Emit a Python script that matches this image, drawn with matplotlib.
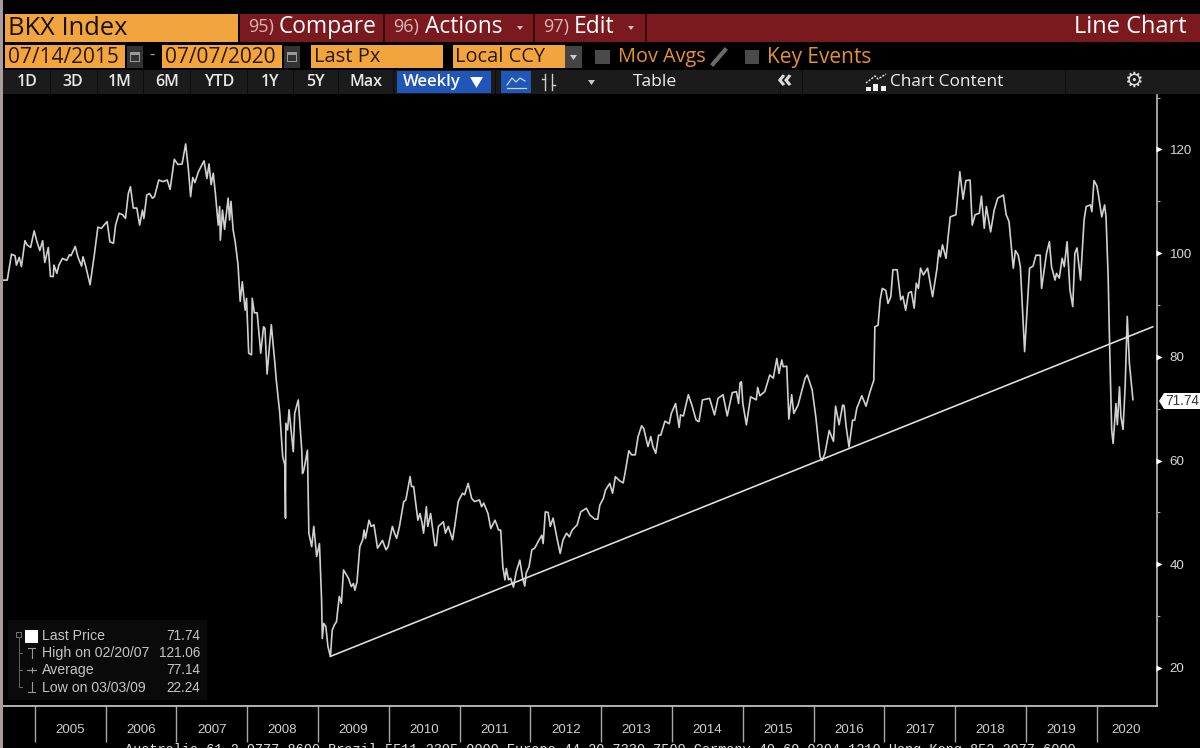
import matplotlib
matplotlib.use("Agg")
import matplotlib.pyplot as plt
from matplotlib.patches import Rectangle, Polygon
from matplotlib.transforms import blended_transform_factory

# ---------- data ----------
dates = [
2004.55,2004.61,2004.67,2004.72,2004.74,2004.78,2004.81,2004.86,2004.89,2004.94,2004.99,2005.03,2005.07,2005.11,2005.14,2005.19,2005.22,2005.26,2005.27,2005.31,
2005.34,2005.39,2005.45,2005.49,2005.51,2005.57,2005.61,2005.66,2005.68,2005.72,2005.78,2005.84,2005.89,2005.94,2006.02,2006.06,2006.11,2006.14,2006.19,2006.24,
2006.28,2006.32,2006.35,2006.39,2006.44,2006.48,2006.52,2006.54,2006.58,2006.62,2006.66,2006.69,2006.75,2006.81,2006.87,2006.91,2006.97,2007.02,2007.08,2007.13,
2007.17,2007.20,2007.23,2007.26,2007.31,2007.39,2007.43,2007.46,2007.49,2007.52,2007.55,2007.59,2007.61,2007.62,2007.65,2007.68,2007.73,2007.75,2007.77,2007.80,
2007.83,2007.87,2007.90,2007.93,2007.97,2007.99,2008.02,2008.06,2008.07,2008.10,2008.14,2008.19,2008.23,2008.25,2008.28,2008.34,2008.39,2008.41,
2008.46,2008.50,2008.53,2008.54,2008.545,2008.57,2008.59,2008.65,2008.67,2008.72,2008.77,2008.78,2008.80,2008.85,2008.87,2008.91,2008.94,2008.98,2009.02,2009.05,
2009.06,2009.08,2009.11,2009.14,2009.175,2009.20,2009.23,2009.26,2009.30,2009.33,2009.36,2009.43,2009.47,2009.50,2009.52,2009.55,2009.59,2009.63,2009.65,2009.67,
2009.72,2009.75,2009.79,2009.84,2009.91,2009.96,2009.99,2010.05,2010.08,2010.11,2010.15,2010.21,2010.24,2010.30,2010.32,2010.35,2010.41,2010.44,2010.47,2010.49,
2010.53,2010.55,2010.59,2010.65,2010.67,2010.70,2010.77,2010.80,2010.84,2010.90,2010.93,2010.98,2011.04,2011.07,2011.12,2011.17,2011.21,2011.28,2011.31,2011.34,
2011.40,2011.44,2011.50,2011.55,2011.58,2011.61,2011.64,2011.66,2011.69,2011.72,2011.76,2011.80,2011.85,2011.89,2011.92,2011.94,2011.98,2012.02,2012.06,2012.11,
2012.16,2012.18,2012.21,2012.25,2012.28,2012.32,2012.38,2012.42,2012.46,2012.51,2012.55,2012.59,2012.66,2012.71,2012.79,
2012.84,2012.91,2012.95,2012.98,2013.03,2013.06,2013.12,2013.16,2013.20,2013.26,2013.31,2013.34,2013.39,2013.43,2013.48,
2013.52,2013.57,2013.60,2013.66,2013.70,2013.73,2013.77,2013.81,2013.84,2013.90,2013.96,2013.99,2014.05,2014.10,2014.12,2014.16,2014.23,2014.28,2014.34,2014.38,
2014.43,2014.53,2014.60,2014.65,2014.72,2014.78,2014.85,2014.91,2014.94,2014.96,2014.98,2015.00,2015.05,2015.11,2015.19,2015.21,2015.24,2015.31,2015.38,2015.43,
2015.48,2015.51,2015.55,2015.57,2015.62,2015.65,2015.69,2015.72,2015.78,2015.88,2015.91,2015.98,2016.03,2016.09,2016.12,2016.16,2016.22,2016.28,2016.31,2016.36,
2016.41,2016.43,2016.46,2016.50,2016.55,2016.58,2016.61,2016.68,
2016.74,2016.79,2016.85,2016.865,2016.91,2016.94,2016.97,2017.02,2017.05,2017.09,2017.12,2017.18,2017.23,2017.26,2017.30,2017.34,2017.38,2017.42,2017.45,2017.48,
2017.51,2017.55,2017.61,2017.68,2017.74,2017.77,2017.79,2017.82,2017.87,2017.90,2017.93,2018.01,2018.065,2018.11,2018.15,2018.21,2018.24,2018.28,2018.34,2018.37,
2018.41,2018.44,2018.50,2018.55,2018.60,2018.68,2018.72,2018.76,2018.82,2018.85,2018.89,2018.92,2018.98,2019.05,2019.10,2019.14,2019.20,2019.22,2019.27,2019.29,
2019.33,2019.36,2019.41,2019.43,2019.47,2019.51,2019.54,2019.58,2019.62,2019.66,2019.69,2019.72,2019.77,2019.82,2019.85,2019.91,2019.93,2019.96,2020.00,2020.02,
2020.07,2020.11,2020.13,2020.16,2020.18,2020.21,2020.23,2020.27,2020.29,2020.32,2020.34,2020.37,2020.40,2020.43,2020.46,2020.51]

prices = [
94.8,94.8,99.8,99.5,97.7,99.2,97.4,102.4,101.6,101.1,104.3,102.2,100.5,102.4,98.2,101.1,95.5,95.5,97.7,96.1,
97.7,99.0,98.6,99.7,99.5,101.3,99.2,97.5,99.3,97.4,93.9,99.7,105.0,104.8,106.1,102.2,101.9,105.4,107.7,107.4,
106.7,111.5,112.8,108.7,108.7,105.4,108.3,106.7,111.2,111.5,110.6,110.9,114.1,113.8,114.1,112.3,118.1,117.1,117.2,121.06,
116.0,110.9,114.6,113.6,115.7,117.8,114.4,117.2,113.2,115.4,111.5,105.4,109.0,102.5,108.3,104.6,110.6,106.4,110.0,104.5,
102.2,97.7,90.7,94.5,89.0,91.3,80.7,80.4,91.3,88.5,88.5,80.7,85.8,85.5,76.7,86.2,78.8,75.5,
69.1,60.8,59.2,48.9,67.2,65.9,69.8,61.7,69.1,71.7,62.0,57.5,58.2,62.0,46.0,43.4,47.3,41.5,44.0,33.1,
25.7,28.6,28.0,24.1,22.24,27.3,28.3,28.9,33.8,32.5,38.9,37.3,35.7,36.3,35.0,36.6,43.4,44.7,46.6,45.0,
48.5,47.3,47.6,43.1,44.6,42.8,43.4,47.3,46.0,45.0,47.3,52.1,52.4,56.9,55.0,55.0,48.5,49.8,47.9,46.0,
51.1,47.3,49.8,43.6,43.6,47.3,48.2,46.0,47.3,44.7,47.3,52.1,53.7,53.4,55.6,52.7,52.1,52.4,51.1,51.8,
49.8,46.9,48.5,46.6,46.6,39.5,37.0,39.2,37.0,37.3,35.6,38.6,40.8,37.3,35.8,38.3,39.5,42.8,43.1,44.4,
45.6,44.0,50.1,50.0,47.3,48.9,44.7,42.1,44.7,46.0,45.3,46.6,47.6,50.1,50.8,
49.5,48.7,48.7,51.4,52.7,54.3,55.6,53.7,56.9,56.1,55.7,57.9,61.9,61.1,61.1,
64.6,66.7,66.2,62.7,64.6,62.7,61.4,64.9,64.9,67.6,67.1,69.1,71.0,66.4,68.8,68.6,72.7,70.7,67.8,67.5,
71.7,72.0,68.8,72.0,72.7,68.6,73.1,73.3,71.0,75.0,75.2,71.0,66.9,72.3,71.7,74.1,72.5,73.3,76.5,75.9,
79.7,76.8,79.4,78.1,78.2,68.0,72.7,69.1,70.7,75.9,76.5,73.6,68.5,60.8,60.0,61.4,65.8,63.7,70.5,66.9,
70.7,70.6,66.5,62.6,67.8,67.8,70.1,72.5,
70.5,73.0,75.5,85.8,86.1,91.0,93.2,92.8,90.3,91.6,96.8,96.8,91.0,91.7,89.0,92.3,92.6,89.4,94.2,93.2,
97.1,95.8,97.1,91.6,96.8,100.6,99.3,101.6,99.0,103.2,107.0,107.4,115.7,110.4,114.0,114.1,105.4,107.4,107.7,111.0,
104.8,109.0,104.1,108.3,110.6,111.2,107.4,106.1,97.1,100.5,99.6,97.4,81.0,97.1,97.5,99.6,99.6,93.2,98.0,100.0,
102.2,97.4,94.8,96.1,95.2,99.0,97.4,102.2,92.9,89.7,100.0,101.0,94.8,106.4,109.0,109.3,108.0,114.0,113.0,111.5,
107.0,109.3,107.0,95.5,82.6,65.9,63.3,71.0,66.9,74.2,68.5,66.0,74.2,87.8,78.8,71.74]

trend_dates = [2009.175, 2020.79]
trend_values = [22.24, 85.8]
year_ticks = list(range(2005, 2021))
year_label_pos = [y + 0.5 for y in range(2005, 2020)] + [2020.42]
year_labels = [str(y) for y in range(2005, 2021)]
major_y = [20, 40, 60, 80, 100, 120]
minor_y = [30, 50, 70, 90, 110, 130]
last_price = 71.74
legend_rows = [("Last Price", "71.74"), ("High on 02/20/07", "121.06"),
               ("Average", "77.14"), ("Low on 03/03/09", "22.24")]
footer = ("Australia 61 2 9777 8600 Brazil 5511 2395 9000 Europe 44 20 7330 7500 "
          "Germany 49 69 9204 1210 Hong Kong 852 2977 6000")

# ---------- figure ----------
W, H = 1200, 748
UI = "Open Sans"
fig = plt.figure(figsize=(W / 100, H / 100), dpi=100, facecolor="black")
L, R, T, B = 3, 1157, 95, 706
ax = fig.add_axes([L / W, 1 - B / H, (R - L) / W, (B - T) / H], facecolor="black")
ax.set_xlim(2004.55, 2020.85)
ax.set_ylim(12.67, 130.5)

ax.plot(dates, prices, color="#d0d0d0", lw=1.2, solid_joinstyle="round", zorder=3)
ax.plot(trend_dates, trend_values, color="#e2e2e2", lw=1.15, zorder=4)

for s in ("top", "left"):
    ax.spines[s].set_visible(False)
ax.spines["right"].set_color("#bdbdbd")
ax.spines["bottom"].set_color("#d0d0d0")
ax.spines["right"].set_linewidth(1.2)
ax.spines["bottom"].set_linewidth(1.2)

ax.set_xticks(year_ticks)
ax.set_xticklabels([])
ax.tick_params(axis="x", which="major", length=26, width=1.0, color="#a8a8a8")
ax.set_xticks(year_label_pos, minor=True)
ax.set_xticklabels(year_labels, minor=True, fontsize=9.6, color="#cfcfcf", family="Liberation Sans")
ax.tick_params(axis="x", which="minor", length=0, pad=13)

ax.yaxis.tick_right()
ax.set_yticks(major_y)
ax.set_yticklabels([str(v) for v in major_y], fontsize=9.6, color="#d8d8d8", family="Liberation Sans")
ax.tick_params(axis="y", which="major", length=0, pad=9)
ax.set_yticks(minor_y, minor=True)
ax.tick_params(axis="y", which="minor", length=2.5, width=0.8, color="#aaaaaa", direction="out")
tr = blended_transform_factory(ax.transAxes, ax.transData)
ax.plot([1.002] * len(major_y), major_y, ls="", marker=">", ms=4.5, color="white",
        mec="none", transform=tr, clip_on=False, zorder=5)

# ---------- terminal interface overlay ----------
ui = fig.add_axes([0, 0, 1, 1], facecolor="none", zorder=10)
ui.set_xlim(0, W)
ui.set_ylim(H, 0)
ui.axis("off")


def box(x0, y0, x1, y1, c, **kw):
    ui.add_patch(Rectangle((x0, y0), x1 - x0, y1 - y0, fc=c, ec="none", **kw))


def txt(x, y, s, c="white", size=10, ha="left", fam=UI, **kw):
    ui.text(x, y, s, color=c, fontsize=size, ha=ha, va="center", family=fam, **kw)


ORANGE = "#f2a53f"
RED = "#7a1a1e"
box(0, 0, 3, H, "#a89c9c")

# row 1
box(5, 14, 238, 42, ORANGE)
txt(8, 28, "BKX Index", "#1a1005", 18.4)
box(240, 14, W, 42, RED)
for xd in (383, 533, 645):
    box(xd, 14, xd + 2, 42, "#3a0c0e")
txt(248, 27, "95)", "#d8b8b8", 13)
txt(279, 27, "Compare", "white", 16.4)
txt(393, 27, "96)", "#d8b8b8", 13)
txt(425, 27, "Actions", "white", 16.4)
txt(543, 27, "97)", "#d8b8b8", 13)
txt(574, 27, "Edit", "white", 16.4)
for xa in (520, 631):
    ui.add_patch(Polygon([[xa - 3, 26], [xa + 3, 26], [xa, 30]], fc="#d0c0c0", ec="none"))
txt(1187, 27, "Line Chart", "white", 17, ha="right")

# row 2
box(5, 45, 125, 68, ORANGE)
txt(8, 57, "07/14/2015", "#2a1a05", 15)
box(127, 46, 143, 68, "#333333")
txt(152, 56, "-", ORANGE, 12, ha="center")
box(162, 45, 282, 68, ORANGE)
txt(165, 57, "07/07/2020", "#2a1a05", 15)
box(284, 46, 300, 68, "#333333")
for xc in (130, 287):
    box(xc, 52, xc + 10, 62, "#9a9a9a")
    box(xc + 1, 55, xc + 9, 61, "#333333")
box(311, 45, 443, 68, ORANGE)
txt(314, 57, "Last Px", "#2a1a05", 14.5)
box(453, 45, 565, 68, ORANGE)
txt(455, 57, "Local CCY", "#2a1a05", 14.4)
box(565, 46, 582, 68, "#444444")
ui.add_patch(Polygon([[570, 55], [577, 55], [573.5, 60]], fc="#cccccc", ec="none"))
box(595, 50, 610, 64, "#4a4a4a")
txt(618, 57, "Mov Avgs", "#e8922c", 14.3)
ui.plot([713, 725], [64, 50], color="#6a6a6a", lw=3)
box(745, 50, 759, 64, "#4a4a4a")
txt(767, 57, "Key Events", "#e8922c", 15)

# row 3
box(3, 70, W, 94, "#1b1b1b")
for xb in (50, 97, 143, 190, 247, 293, 338, 393, 495, 780, 802, 1065):
    box(xb, 70, xb + 1, 94, "#0c0c0c")
for xb, s in zip((27, 73, 120, 167, 219, 270, 315, 366),
                 ("1D", "3D", "1M", "6M", "YTD", "1Y", "5Y", "Max")):
    txt(xb, 82, s, "#e8e8e8", 11.5, ha="center", fontweight="semibold")
box(397, 71, 491, 93, "#1f56b8")
txt(403, 82, "Weekly", "white", 12, fontweight="semibold")
ui.add_patch(Polygon([[470, 77], [483, 77], [476.5, 88]], fc="white", ec="none"))
box(501, 71, 531, 93, "#1f56b8")
ui.plot([507, 512, 516, 520, 525], [85, 78, 82, 78, 81], color="#c8d8f0", lw=0.9)
ui.plot([507, 526], [88, 88], color="#c8d8f0", lw=0.9)
ui.plot([545, 545], [74, 90], color="#cfcfcf", lw=1)
ui.plot([552, 552], [74, 90], color="#cfcfcf", lw=1)
ui.plot([542, 545], [79, 79], color="#cfcfcf", lw=1)
ui.plot([552, 555], [85, 85], color="#cfcfcf", lw=1)
ui.add_patch(Polygon([[588, 80], [595, 80], [591.5, 85]], fc="#cccccc", ec="none"))
txt(655, 82, "Table", "#eeeeee", 12.6, ha="center")
txt(785, 81, "\u00ab", "#dddddd", 18, ha="center", fontweight="bold")
ui.plot([866, 875, 878, 886], [83, 76, 79, 74], color="#e8e8e8", lw=1, ls=(0, (1.5, 1)))
for xi, yi in ((866, 87), (873, 84), (881, 86)):
    box(xi, yi, xi + 5, 91, "#f0f0f0")
txt(890, 82, "Chart Content", "#eeeeee", 12.4)
txt(1133, 81, "\u2699", "#dddddd", 15, ha="center", fam="DejaVu Sans")

# legend
box(8, 620, 207, 700, "#0a0a0a")
box(25, 630, 38, 643, "white")
ui.add_patch(Rectangle((16, 632), 5, 5, fc="none", ec="#777777", lw=0.7))
ui.plot([18.5, 18.5, 22], [637, 687, 687], color="#666666", lw=0.7)
for yl in (653, 670):
    ui.plot([18.5, 22], [yl, yl], color="#666666", lw=0.7)
ui.plot([28, 35], [648, 648], color="#999999", lw=0.8)
ui.plot([31.5, 31.5], [648, 658], color="#999999", lw=0.8)
ui.plot([27, 36], [670, 670], color="#999999", lw=0.8)
ui.plot([31.5], [670], marker="+", ms=4, color="#999999", mew=0.8)
ui.plot([31.5, 31.5], [682, 692], color="#999999", lw=0.8)
ui.plot([28, 35], [692, 692], color="#999999", lw=0.8)
for yr, (lab, val) in zip((636, 653, 670, 688), legend_rows):
    txt(42, yr, lab, "#c4c4c4", 10.2, fam="Liberation Sans")
    txt(200, yr, val, "#c4c4c4", 9.8, ha="right", fam="Liberation Sans")

# last price tag
ui.add_patch(Polygon([[1159, 401], [1164, 393], [W, 393], [W, 409], [1164, 409]], fc="white", ec="none"))
txt(1165, 401, f"{last_price:.2f}", "#333333", 9.8, fam="Liberation Sans")

# clipped footer line
txt(125, 750, footer, "#e0e0e0", 9.84, fam="Liberation Mono")

fig.savefig("out.png", dpi=100, facecolor="black")
